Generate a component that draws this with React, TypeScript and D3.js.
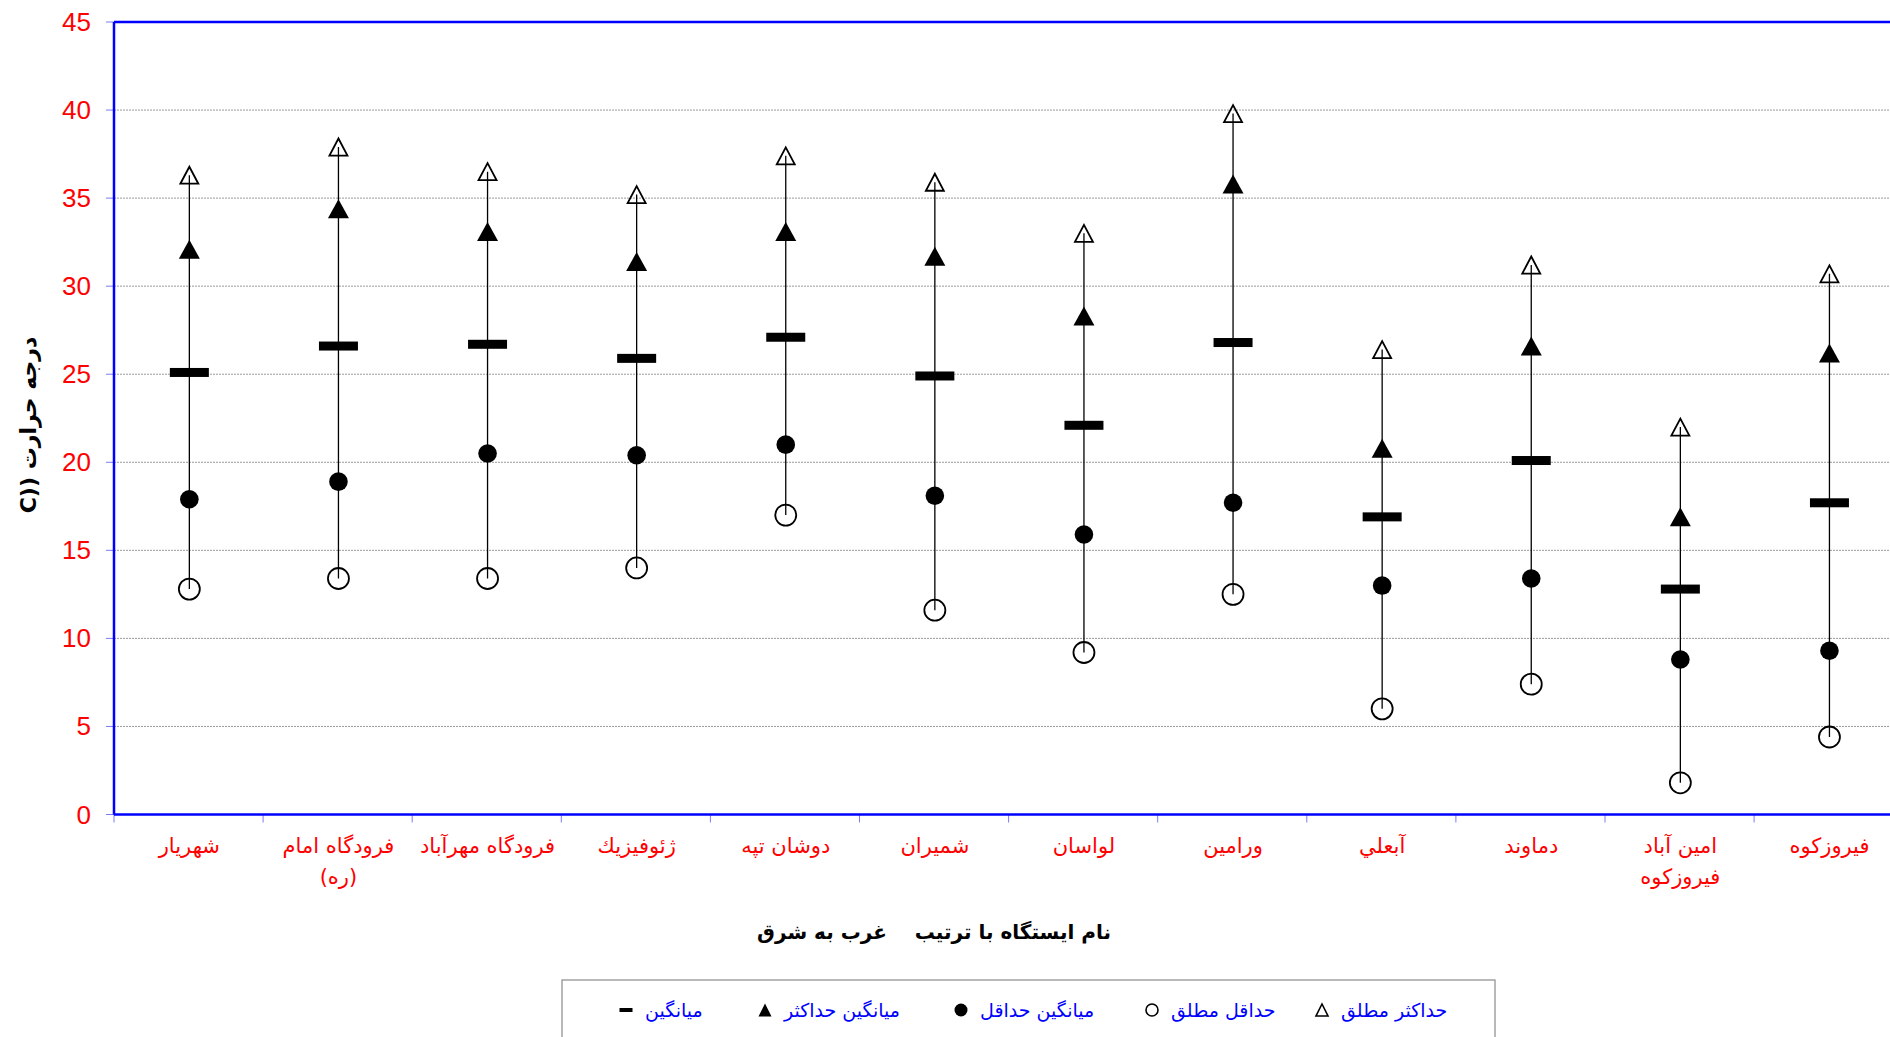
import React from 'react';
import * as d3 from 'd3';

// stations west -> east, each label may have two lines
const stations = [
  ['شهریار'],
  ['فرودگاه امام', '(ره)'],
  ['فرودگاه مهرآباد'],
  ['ژئوفیزيك'],
  ['دوشان تپه'],
  ['شمیران'],
  ['لواسان'],
  ['ورامین'],
  ['آبعلي'],
  ['دماوند'],
  ['امین آباد', 'فیروزکوه'],
  ['فیروزکوه'],
];

const absMax = [36.3, 37.9, 36.5, 35.2, 37.4, 35.9, 33.0, 39.8, 26.4, 31.2, 22.0, 30.7];
const meanMax = [32.1, 34.4, 33.1, 31.4, 33.1, 31.7, 28.3, 35.8, 20.8, 26.6, 16.9, 26.2];
const meanVal = [25.1, 26.6, 26.7, 25.9, 27.1, 24.9, 22.1, 26.8, 16.9, 20.1, 12.8, 17.7];
const meanMin = [17.9, 18.9, 20.5, 20.4, 21.0, 18.1, 15.9, 17.7, 13.0, 13.4, 8.8, 9.3];
const absMin = [12.8, 13.4, 13.4, 14.0, 17.0, 11.6, 9.2, 12.5, 6.0, 7.4, 1.8, 4.4];

const yTicks = [0, 5, 10, 15, 20, 25, 30, 35, 40, 45];

const legendItems = [
  { label: 'حداكثر مطلق', sym: 'openTri' },
  { label: 'حداقل مطلق', sym: 'openCircle' },
  { label: 'میانگین حداقل', sym: 'dot' },
  { label: 'میانگین حداكثر', sym: 'tri' },
  { label: 'میانگین', sym: 'bar' },
];

const W = 1890;
const H = 1037;
const left = 114;
const top = 22;
const bottom = 814.5;
const bandW = 149.1;

const tri = (cx: number, cy: number, w: number, h: number) =>
  `${cx},${cy - h / 2} ${cx + w / 2},${cy + h / 2} ${cx - w / 2},${cy + h / 2}`;

export default function App() {
  const keys = stations.map((_, i) => String(i));
  const x = d3.scaleBand().domain(keys).range([left, left + bandW * keys.length]).padding(0);
  const y = d3.scaleLinear().domain([0, 45]).range([bottom, top]);
  const cx = (i: number) => (x(String(i)) as number) + x.bandwidth() / 2 + 0.8;

  const legendX = [1322, 1152, 961, 765, 626];
  const legendY = 1010;

  const legendSym = (sym: string, sx: number) => {
    if (sym === 'openTri')
      return <polygon points={tri(sx, legendY, 12, 12)} fill="white" stroke="black" strokeWidth={1.6} />;
    if (sym === 'tri') return <polygon points={tri(sx, legendY, 13, 13)} fill="black" />;
    if (sym === 'openCircle')
      return <circle cx={sx} cy={legendY} r={6} fill="white" stroke="black" strokeWidth={1.6} />;
    if (sym === 'dot') return <circle cx={sx} cy={legendY} r={6.5} fill="black" />;
    return <rect x={sx - 6.5} y={legendY - 2} width={13} height={4} fill="black" />;
  };

  return (
    <svg
      width={W}
      height={H}
      style={{ position: 'absolute', left: 0, top: 0, background: 'white' }}
    >
      {/* grid */}
      {yTicks.filter((t) => t > 0 && t < 45).map((t) => (
        <line key={'g' + t} x1={left} x2={W} y1={y(t)} y2={y(t)} stroke="#9a9a9a" strokeWidth={1} strokeDasharray="2 1" />
      ))}

      {/* y ticks and labels */}
      {yTicks.map((t) => (
        <g key={'y' + t}>
          <line x1={left - 8} x2={left} y1={y(t)} y2={y(t)} stroke="#7a7aff" strokeWidth={1} />
          <text
            x={91}
            y={y(t)}
            textAnchor="end"
            dominantBaseline="central"
            fill="#ff0000"
            fontFamily="'Liberation Sans', Arial, sans-serif"
            fontSize={26}
          >
            {t}
          </text>
        </g>
      ))}

      {/* x ticks at band edges */}
      {keys.map((k, i) => (
        <line key={'xt' + i} x1={x(k)} x2={x(k)} y1={bottom} y2={bottom + 8} stroke="#7a7aff" strokeWidth={1} />
      ))}

      {/* axes */}
      <line x1={left} x2={W} y1={top} y2={top} stroke="#0000ff" strokeWidth={2.5} />
      <line x1={left} x2={left} y1={top} y2={bottom} stroke="#0000ff" strokeWidth={2.5} />
      <line x1={left} x2={W} y1={bottom} y2={bottom} stroke="#0000ff" strokeWidth={2.5} />

      {/* series */}
      {keys.map((k, i) => {
        const c = cx(i);
        return (
          <g key={'s' + i}>
            <line x1={c} x2={c} y1={y(absMin[i])} y2={y(absMax[i])} stroke="black" strokeWidth={1.3} />
            <circle cx={c} cy={y(absMin[i])} r={10.5} fill="none" stroke="black" strokeWidth={1.8} />
            <polygon points={tri(c, y(absMax[i]), 18, 17)} fill="none" stroke="black" strokeWidth={1.8} />
            <polygon points={tri(c, y(meanMax[i]), 21, 19)} fill="black" />
            <circle cx={c} cy={y(meanMin[i])} r={9.3} fill="black" />
            <rect x={c - 19.5} y={y(meanVal[i]) - 4.5} width={39} height={9} fill="black" />
          </g>
        );
      })}

      {/* x labels */}
      {stations.map((lines, i) => (
        <text
          key={'xl' + i}
          x={cx(i)}
          y={846}
          textAnchor="middle"
          direction="rtl"
          fill="#ff0000"
          fontFamily="'DejaVu Sans', Arial, sans-serif"
          fontSize={21}
        >
          {lines.map((l, j) => (
            <tspan key={j} x={cx(i)} dy={j === 0 ? 0 : 31} dominantBaseline="central">
              {l}
            </tspan>
          ))}
        </text>
      ))}

      {/* axis titles */}
      <text
        x={934}
        y={932}
        textAnchor="middle"
        dominantBaseline="central"
        direction="rtl"
        fontWeight="bold"
        fontFamily="'DejaVu Sans', Arial, sans-serif"
        fontSize={20}
        style={{ whiteSpace: 'pre' }}
      >
        {'نام ایستگاه با ترتیب    غرب به شرق'}
      </text>
      <text
        transform="translate(28,425) rotate(-90)"
        textAnchor="middle"
        dominantBaseline="central"
        direction="rtl"
        fontWeight="bold"
        fontFamily="'DejaVu Sans', Arial, sans-serif"
        fontSize={22}
      >
        {'درجه حرارت ((C'}
      </text>

      {/* legend */}
      <rect x={562} y={980} width={933} height={80} fill="white" stroke="#8a8a8a" strokeWidth={1.2} />
      {legendItems.map((it, i) => (
        <g key={'lg' + i}>
          {legendSym(it.sym, legendX[i])}
          <text
            x={legendX[i] + 19}
            y={legendY}
            textAnchor="end"
            direction="rtl"
            dominantBaseline="central"
            fill="#0000ff"
            fontFamily="'DejaVu Sans', Arial, sans-serif"
            fontSize={19}
          >
            {it.label}
          </text>
        </g>
      ))}
    </svg>
  );
}
